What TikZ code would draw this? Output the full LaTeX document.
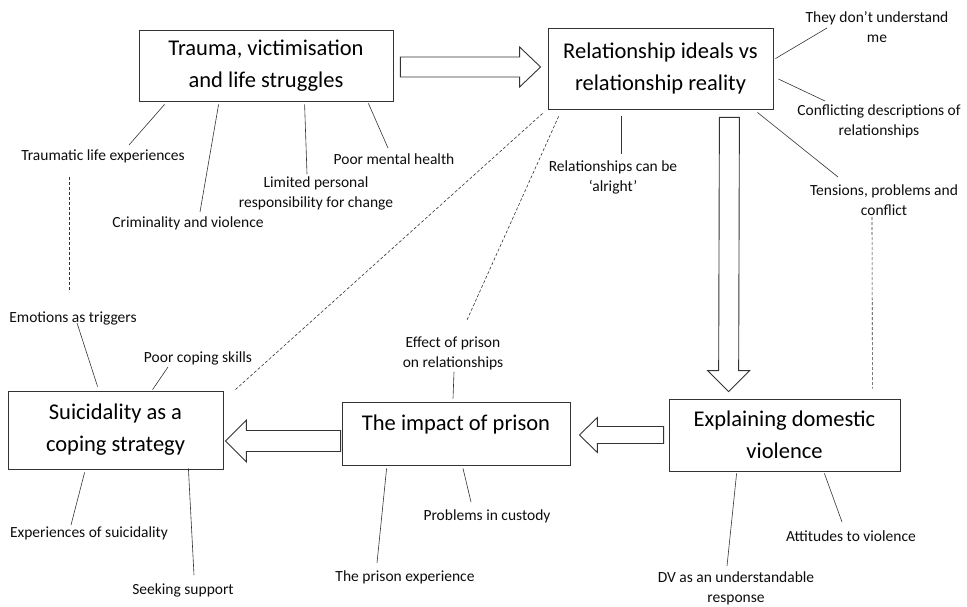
\documentclass[tikz,border=0pt]{standalone}
\usepackage{fontspec}
\setmainfont{Carlito}
\usetikzlibrary{calc}

% block arrow: start, tip, shaft half width, head half width, head length
\newcommand{\fatarrow}[5]{%
  \coordinate (fah) at ($(#2)!#5!(#1)$);
  \draw[fat] ($(#1)!#3!90:(#2)$) -- ($(fah)!#3!-90:(#1)$) -- ($(fah)!#4!-90:(#1)$) -- (#2)
    -- ($(fah)!#4!90:(#1)$) -- ($(fah)!#3!90:(#1)$) -- ($(#1)!#3!-90:(#2)$) -- cycle;
}

\begin{document}
\begin{tikzpicture}[x=1pt, y=-1pt,
        theme/.style={draw=black!80, line width=0.8pt, align=center, inner sep=2pt,
            text=black, font=\fontsize{22.5}{32}\selectfont},
        sub/.style={align=center, inner sep=1pt, text=black!95, font=\fontsize{15.5}{20}\selectfont},
        link/.style={black!80, line width=0.6pt},
        dashlink/.style={black!80, line width=0.6pt, dash pattern=on 3pt off 2pt},
        fat/.style={draw=black!80, line width=0.9pt, fill=white, line join=miter}
    ]
        \useasboundingbox (0,0) rectangle (967,607);

        % Themes
        \node[theme, minimum width=254pt, minimum height=71pt] (trauma) at (266,65.5) {Trauma, victimisation\\and life struggles};
        \node[theme, minimum width=225pt, minimum height=81pt] (ideals) at (660.5,68.5) {Relationship ideals vs\\relationship reality};
        \node[theme, minimum width=215pt, minimum height=78pt] (suicid) at (115.5,430) {Suicidality as a\\coping strategy};
        \node[theme, minimum width=228pt, minimum height=63pt, text height=15pt, text depth=22pt] (prison) at (456,433.5) {The impact of prison};
        \node[theme, minimum width=231pt, minimum height=72pt] (dv) at (784.5,435) {Explaining domestic\\violence};

        % Block arrows
        \coordinate (a1s) at ($(trauma.east)+(7,1.5)$);
        \coordinate (a1t) at ($(ideals.west)+(-7,-1.5)$);
        \coordinate (a2s) at ($(ideals.south east)+(-44,8)$);
        \coordinate (a2t) at ($(dv.north west)+(60,-7)$);
        \coordinate (a3s) at ($(dv.west)+(-5,0)$);
        \coordinate (a3t) at ($(prison.east)+(9,1.5)$);
        \coordinate (a4s) at ($(prison.west)+(-1,7.5)$);
        \coordinate (a4t) at ($(suicid.east)+(2,11)$);
        \fatarrow{a1s}{a1t}{10pt}{20pt}{21pt}
        \fatarrow{a2s}{a2t}{10pt}{21pt}{21pt}
        \fatarrow{a3s}{a3t}{8.5pt}{17.5pt}{18pt}
        \fatarrow{a4s}{a4t}{10.5pt}{21pt}{21pt}

        % Trauma subthemes
        \node[sub] (tle) at (103,156) {Traumatic life experiences};
        \node[sub] (crim) at (188,223) {Criminality and violence};
        \node[sub] (limit) at (316,193) {Limited personal\\responsibility for change};
        \node[sub] (pmh) at (394,159) {Poor mental health};
        \draw[link] ($(trauma.south west)+(26,3)$) -- ($(tle)+(26,-11)$);
        \draw[link] ($(trauma.south west)+(80,3)$) -- ($(crim)+(12,-11)$);
        \draw[link] ($(trauma.south west)+(166,3)$) -- ($(limit)+(-9,-19)$);
        \draw[link] ($(trauma.south east)+(-25,2)$) -- ($(pmh)+(-6,-11)$);

        % Relationship subthemes
        \node[sub] (dont) at (877,27) {They don’t understand\\me};
        \node[sub] (confl) at (879,121) {Conflicting descriptions of\\relationships};
        \node[sub] (tens) at (884,200) {Tensions, problems and\\conflict};
        \node[sub] (alright) at (613,177) {Relationships can be\\‘alright’};
        \draw[link] ($(ideals.north east)+(2,31)$) -- ($(dont)+(-50,1)$);
        \draw[link] ($(ideals.east)+(5,10.5)$) -- ($(confl)+(-54,-20)$);
        \draw[link] ($(ideals.south east)+(-16,3)$) -- ($(tens)+(-46,-23)$);
        \draw[link] ($(ideals.south)+(-39.5,7)$) -- ($(alright)+(8,-23)$);

        % Suicidality subthemes
        \node[sub] (emot) at (73,318) {Emotions as triggers};
        \node[sub] (pcs) at (198,358) {Poor coping skills};
        \node[sub] (exps) at (89,533) {Experiences of suicidality};
        \node[sub] (seek) at (183,590) {Seeking support};
        \draw[link] ($(suicid.north west)+(90,-4)$) -- ($(emot)+(4,5)$);
        \draw[link] ($(suicid.north west)+(145,-1)$) -- ($(pcs)+(-30,9)$);
        \draw[link] ($(suicid.south west)+(77,3)$) -- ($(exps)+(-18,-8)$);
        \draw[link] ($(suicid.south east)+(-35,-1)$) -- ($(seek)+(11,-15)$);

        % Prison subthemes
        \node[sub] (effect) at (453,353) {Effect of prison\\on relationships};
        \node[sub] (cust) at (487,516) {Problems in custody};
        \node[sub] (pexp) at (405,577) {The prison experience};
        \draw[link] ($(prison.north)+(-3,-3)$) -- ($(effect)+(1,19)$);
        \draw[link] ($(prison.south)+(7,3)$) -- ($(cust)+(-16,-14)$);
        \draw[link] ($(prison.south west)+(45,3)$) -- ($(pexp)+(-28,-14)$);

        % DV subthemes
        \node[sub] (att) at (851,536) {Attitudes to violence};
        \node[sub] (dvr) at (736,588) {DV as an understandable\\response};
        \draw[link] ($(dv.south east)+(-76,2)$) -- ($(att)+(-9,-14)$);
        \draw[link] ($(dv.south west)+(68,2)$) -- ($(dvr)+(-9,-22)$);

        % Dashed links
        \draw[dashlink] ($(tle)+(-34,21)$) -- ($(emot)+(-4,-26)$);
        \draw[dashlink] ($(tens)+(-12,17)$) -- ($(dv.north east)+(-28,-10)$);
        \draw[dashlink] ($(ideals.south west)+(-5,4)$) -- ($(suicid.north east)+(12,-1)$);
        \draw[dashlink] ($(ideals.south west)+(11,7)$) -- ($(effect)+(14,-33)$);

    \end{tikzpicture}
\end{document}
